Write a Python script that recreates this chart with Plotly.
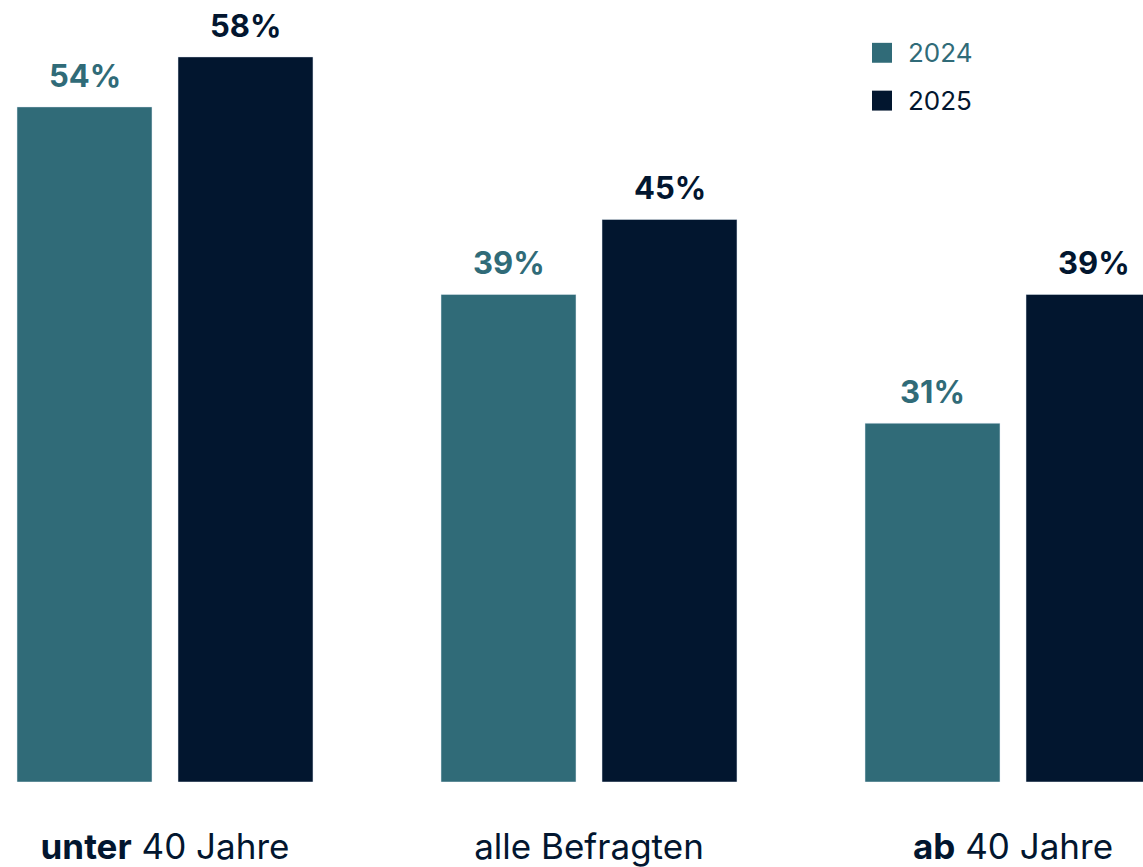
import plotly.graph_objects as go

categories = ["<b>unter</b> 40 Jahre", "alle Befragten", "<b>ab</b> 40 Jahre"]
series_names = ["2024", "2025"]
values_2024 = [54, 39, 28.7]
values_2025 = [58, 45, 39]
labels_2024 = ["54%", "39%", "31%"]
labels_2025 = ["58%", "45%", "39%"]

TEAL = "#306B78"
NAVY = "#02162F"
FONT = "Inter"

BARGAP = 0.2406
BARGROUPGAP = 0.1615
PLOT_H = 785

x = list(range(len(categories)))
fig = go.Figure()
fig.add_trace(go.Bar(x=x, y=values_2024, name=series_names[0], marker_color=TEAL,
                     showlegend=False, hoverinfo="skip"))
fig.add_trace(go.Bar(x=x, y=values_2025, name=series_names[1], marker_color=NAVY,
                     showlegend=False, hoverinfo="skip"))

slot_off = (1 - BARGAP) / 4
annotations = []
for vals, labs, col, sgn in [(values_2024, labels_2024, TEAL, -1), (values_2025, labels_2025, NAVY, 1)]:
    for i, (v, lab) in enumerate(zip(vals, labs)):
        annotations.append(dict(x=i + sgn * slot_off, y=v, xref="x", yref="y",
                                text="<b>" + lab + "</b>", showarrow=False,
                                yanchor="bottom", yshift=11,
                                font=dict(family=FONT, size=31, color=col)))

# legend
leg_y = [1 - 53 / PLOT_H, 1 - 101 / PLOT_H]
for name, col, yy in zip(series_names, [TEAL, NAVY], leg_y):
    fig.add_shape(type="rect", xref="paper", yref="paper",
                  x0=872/1143, x1=892/1143, y0=yy - 10/PLOT_H, y1=yy + 10/PLOT_H,
                  fillcolor=col, line_width=0)
    annotations.append(dict(x=906/1143, y=yy, xref="paper", yref="paper", text=name,
                            showarrow=False, xanchor="left", yanchor="middle",
                            font=dict(family=FONT, size=26, color=col)))

fig.update_layout(
    width=1143, height=867,
    margin=dict(l=0, r=0, t=0, b=867 - PLOT_H),
    paper_bgcolor="white", plot_bgcolor="white",
    barmode="group", bargap=BARGAP, bargroupgap=BARGROUPGAP,
    xaxis=dict(range=[-165/424, (1143-165)/424], tickvals=x, ticktext=categories,
               showgrid=False, zeroline=False, showline=False, ticks="",
               ticklabelstandoff=41,
               tickfont=dict(family=FONT, size=35, color=NAVY)),
    yaxis=dict(range=[0, PLOT_H/12.55], visible=False, showgrid=False),
    annotations=annotations,
    showlegend=False,
)
fig.write_html("out.html", config={"displayModeBar": False},
               post_script="document.body.style.margin='0';document.body.style.overflow='hidden';")
